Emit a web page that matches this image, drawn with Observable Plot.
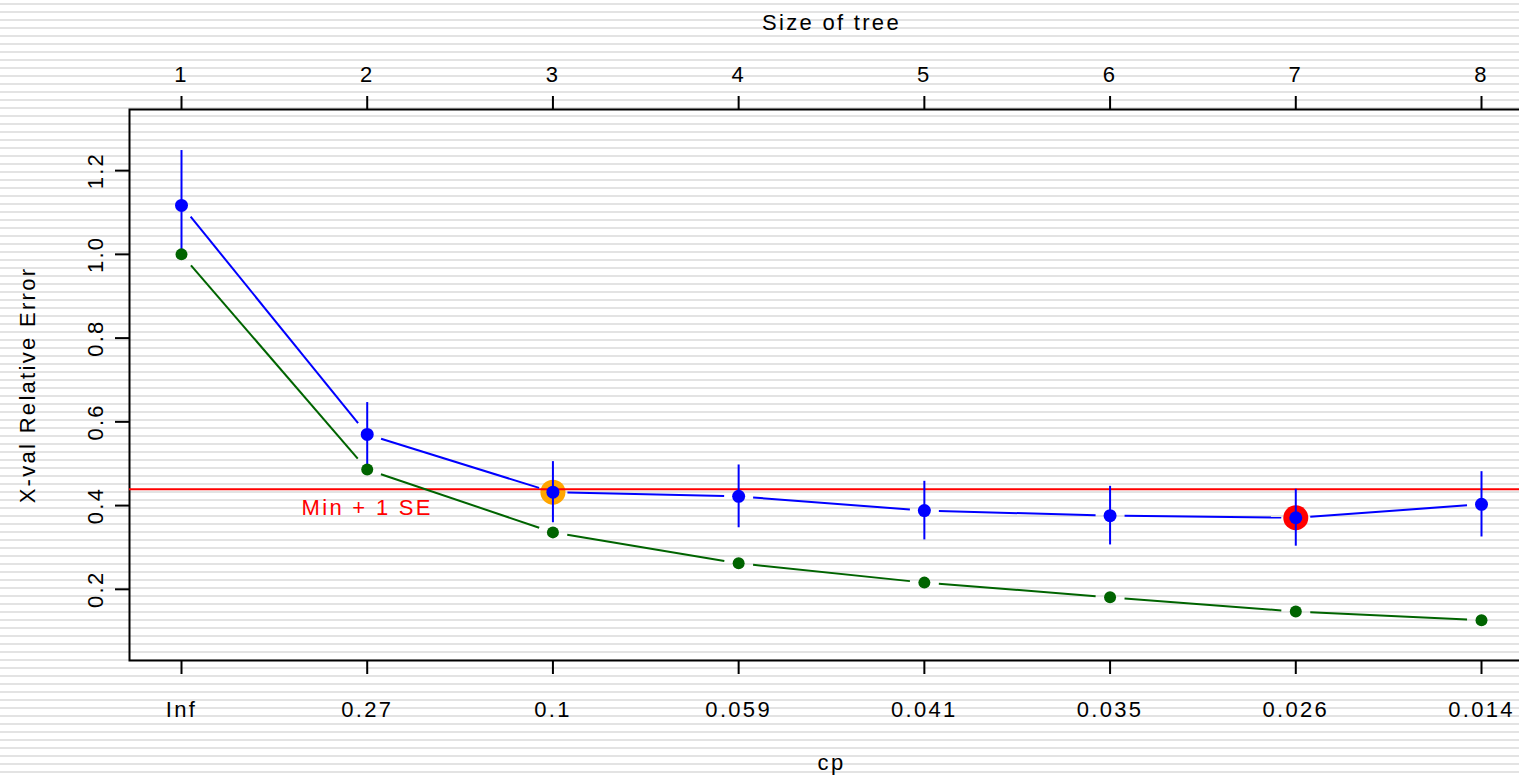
<!DOCTYPE html>
<html>
<head>
<meta charset="utf-8">
<script src="https://cdn.jsdelivr.net/npm/d3@7"></script>
<script src="https://cdn.jsdelivr.net/npm/@observablehq/plot@0.6"></script>
<style>
  html, body { margin: 0; padding: 0; overflow: hidden; }
  body {
    width: 1519px; height: 777px;
    background: repeating-linear-gradient(to bottom, #ffffff 0px, #ffffff 3px, #e3e3e3 3px, #e3e3e3 5px, #ffffff 5px, #ffffff 8px);
  }
  #chart { width: 1519px; height: 777px; overflow: hidden; }
  #chart svg { display: block; max-width: none !important; width: 1585px !important; height: 777px !important; }
</style>
</head>
<body>
<div id="chart"></div>
<script>
// ---- data ----
const treeSizes = [1, 2, 3, 4, 5, 6, 7, 8];
const cpLabels = ["Inf", "0.27", "0.1", "0.059", "0.041", "0.035", "0.026", "0.014"];
const relError = [1.000, 0.486, 0.336, 0.262, 0.216, 0.181, 0.147, 0.126];
const xError   = [1.117, 0.570, 0.432, 0.422, 0.388, 0.376, 0.371, 0.403];
const xStd     = [0.131, 0.076, 0.073, 0.075, 0.070, 0.070, 0.068, 0.078];
const yTicks   = [0.2, 0.4, 0.6, 0.8, 1.0, 1.2];

// ---- derived ----
const W = 1585, H = 777;
const mL = 129, mR = 52, mT = 109, mB = 117;
const xDom = [0.72, 8.28];
const yDom = [0.030, 1.346];

const rows = treeSizes.map((s, i) => ({size: s, rel: relError[i], xerr: xError[i], std: xStd[i]}));
const minIdx = d3.minIndex(xError);
const threshold = xError[minIdx] + xStd[minIdx];
const seIdx = xError.findIndex(v => v <= threshold);

// pixel mirror of the plot scales, used only to leave gaps around points (R type="b")
const px = d3.scaleLinear().domain(xDom).range([mL, W - mR]);
const py = d3.scaleLinear().domain(yDom).range([H - mB, mT]);
const GAP = 14.5;
function gapped(key) {
  const segs = [];
  for (let i = 0; i < rows.length - 1; i++) {
    const a = rows[i], b = rows[i + 1];
    const dx = px(b.size) - px(a.size), dy = py(b[key]) - py(a[key]);
    const t = GAP / Math.hypot(dx, dy);
    segs.push({
      x1: a.size + t * (b.size - a.size), y1: a[key] + t * (b[key] - a[key]),
      x2: b.size - t * (b.size - a.size), y2: b[key] - t * (b[key] - a[key])
    });
  }
  return segs;
}

const chart = Plot.plot({
  width: W, height: H,
  marginLeft: mL, marginRight: mR, marginTop: mT, marginBottom: mB,
  style: "background:transparent;font-family:'Liberation Sans',Arial,sans-serif;font-size:22px;letter-spacing:2.3px;color:black;overflow:visible;max-width:none;",
  x: {domain: xDom},
  y: {domain: yDom},
  marks: [
    Plot.axisX({anchor: "bottom", ticks: treeSizes, tickFormat: i => cpLabels[i - 1], tickSize: 14, tickPadding: 27, strokeWidth: 2, label: null}),
    Plot.axisX({anchor: "top", ticks: treeSizes, tickFormat: d => String(d), tickSize: 14, tickPadding: 14, strokeWidth: 2, label: null}),
    Plot.axisY({anchor: "left", ticks: yTicks, tickSize: 14, strokeWidth: 2, tickFormat: () => "", label: null}),
    Plot.text(yTicks, {y: d => d, frameAnchor: "left", dx: -34, rotate: -90, textAnchor: "middle", lineAnchor: "middle", text: d => d.toFixed(1)}),
    Plot.text(["Size of tree"], {frameAnchor: "top", dy: -87, textAnchor: "middle", lineAnchor: "middle"}),
    Plot.text(["cp"], {frameAnchor: "bottom", dy: 102, textAnchor: "middle", lineAnchor: "middle"}),
    Plot.text(["X-val Relative Error"], {frameAnchor: "left", dx: -102, rotate: -90, textAnchor: "middle", lineAnchor: "middle"}),
    Plot.frame({stroke: "black", strokeWidth: 2}),
    // highlight circles
    Plot.dot([rows[seIdx]], {x: "size", y: "xerr", r: 12.5, fill: "orange"}),
    Plot.dot([rows[minIdx]], {x: "size", y: "xerr", r: 12.5, fill: "red"}),
    // min + 1 SE line
    Plot.ruleY([threshold], {stroke: "red", strokeWidth: 2}),
    Plot.text([{x: treeSizes[1], y: threshold}], {x: "x", y: "y", text: () => "Min + 1 SE", fill: "red", dy: 19}),
    // error bars
    Plot.ruleX(rows, {x: "size", y1: d => d.xerr - d.std, y2: d => d.xerr + d.std, stroke: "blue", strokeWidth: 2}),
    // lines with gaps
    Plot.link(gapped("rel"), {x1: "x1", y1: "y1", x2: "x2", y2: "y2", stroke: "darkgreen", strokeWidth: 2}),
    Plot.link(gapped("xerr"), {x1: "x1", y1: "y1", x2: "x2", y2: "y2", stroke: "blue", strokeWidth: 2}),
    // points
    Plot.dot(rows, {x: "size", y: "rel", r: 6, fill: "darkgreen"}),
    Plot.dot(rows, {x: "size", y: "xerr", r: 6.5, fill: "blue"})
  ]
});
document.getElementById("chart").appendChild(chart);
</script>
</body>
</html>
